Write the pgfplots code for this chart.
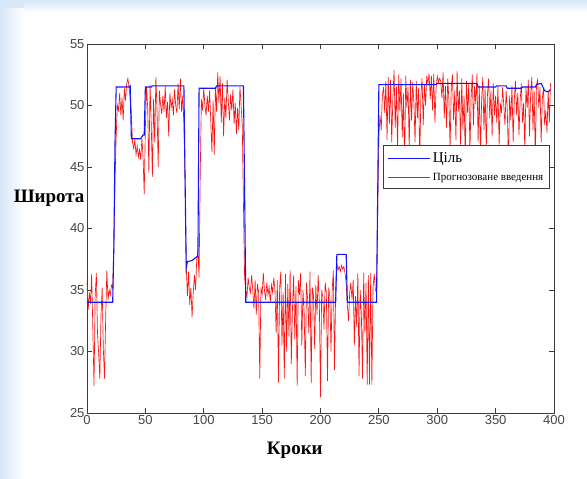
\documentclass[border=0pt]{standalone}
\usepackage{pgfplots}
\pgfplotsset{compat=1.18}
\usepackage{fontspec}
\setmainfont{Liberation Serif}
\newfontfamily\ticksans{Liberation Sans}

\definecolor{slideblue}{RGB}{214,231,248}
\definecolor{axgray}{RGB}{60,60,60}
\definecolor{tickgray}{RGB}{70,70,70}
\definecolor{tgtblue}{RGB}{20,20,255}
\definecolor{predred}{RGB}{250,20,20}

\begin{document}
\begin{tikzpicture}
% slide background
\fill[slideblue] (0pt,0pt) rectangle (587pt,479pt);
\shade[left color=slideblue, right color=white] (0pt,0pt) rectangle (24pt,470pt);
\fill[white] (24pt,0pt) rectangle (587pt,470pt);
\shade[bottom color=white, top color=slideblue] (24pt,466pt) rectangle (587pt,479pt);

\begin{axis}[
    at={(87pt,66pt)}, anchor=south west,
    scale only axis,
    width=467pt, height=369pt,
    xmin=0, xmax=400,
    ymin=25, ymax=55,
    xtick={0,50,...,400},
    ytick={25,30,...,55},
    tick align=inside,
    major tick length=5pt,
    axis line style={axgray, line width=0.9pt},
    every tick/.style={axgray, line width=0.9pt},
    ticklabel style={font=\ticksans\fontsize{13}{14}\selectfont, text=tickgray},
    /pgf/number format/assume math mode=true,
    xticklabel style={yshift=1pt},
    yticklabel style={xshift=1pt},
    clip=false,
    legend cell align=left,
    legend style={at={(0.634,0.726)}, anchor=north west,
        draw=axgray, line width=0.9pt, fill=white,
        inner xsep=4pt, inner ysep=5pt, row sep=5pt},
    legend image code/.code={\draw[#1] (0pt,0pt) -- (42pt,0pt);},
]

\addlegendimage{tgtblue, line width=1.3pt}
\addlegendentry{\fontsize{15}{16}\selectfont Ціль}
\addlegendimage{predred, line width=0.7pt}
\addlegendentry{\fontsize{11}{12}\selectfont Прогнозоване введення}

% predicted output (red)
\addplot[predred, line width=0.65pt, forget plot] coordinates {
(0,35.6)(1,33.4)(2,34.8)(3,33.9)(4,36.3)(5,31.8)(6,27.2)(7,34.5)(8,36.4)(9,31.5)
(10,29.8)(11,27.8)(12,33.0)(13,35.2)(14,30.2)(15,27.8)(16,32.8)(17,36.6)(18,34.2)(19,35.0)
(20,34.6)(21,35.4)(22,35.2)(23,38.5)(24,44.0)(25,47.5)(26,50.0)(27,49.6)(28,51.0)(29,49.2)
(30,50.6)(31,48.8)(32,51.4)(33,50.4)(34,51.8)(35,52.2)(36,51.5)(37,50.6)(38,49.3)(39,47.0)
(40,46.5)(41,47.2)(42,46.0)(43,46.7)(44,45.8)(45,46.4)(46,45.6)(47,47.3)(48,45.9)(49,42.8)
(50,48.2)(51,51.5)(52,49.8)(53,44.5)(54,51.7)(55,48.6)(56,44.2)(57,50.5)(58,47.0)(59,52.3)
(60,49.6)(61,45.0)(62,51.2)(63,50.1)(64,49.3)(65,50.8)(66,49.5)(67,51.6)(68,49.0)(69,50.3)
(70,47.5)(71,51.0)(72,49.8)(73,50.5)(74,49.2)(75,51.3)(76,50.0)(77,49.4)(78,51.8)(79,49.7)
(80,52.2)(81,49.5)(82,50.8)(83,48.5)(84,44.0)(85,37.0)(86,34.5)(87,36.5)(88,33.8)(89,35.2)
(90,32.8)(91,34.8)(92,36.2)(93,35.0)(94,37.5)(95,38.2)(96,36.0)(97,44.5)(98,50.5)(99,49.6)
(100,51.4)(101,50.0)(102,49.2)(103,50.8)(104,49.5)(105,51.2)(106,48.8)(107,46.2)(108,50.4)(109,46.0)
(110,51.5)(111,49.5)(112,52.7)(113,50.2)(114,52.4)(115,48.6)(116,51.8)(117,47.5)(118,50.6)(119,49.0)
(120,52.1)(121,50.4)(122,48.8)(123,50.9)(124,49.6)(125,51.3)(126,48.5)(127,50.2)(128,47.7)(129,49.8)
(130,48.0)(131,51.5)(132,50.0)(133,48.4)(134,42.0)(135,36.0)(136,35.0)(137,34.4)(138,36.0)(139,35.2)
(140,34.8)(141,36.2)(142,35.0)(143,33.5)(144,35.8)(145,33.0)(146,35.5)(147,34.8)(148,27.8)(149,35.2)
(150,34.6)(151,36.4)(152,35.0)(153,34.2)(154,35.6)(155,34.6)(156,35.2)(157,34.0)(158,35.4)(159,34.8)
(160,36.0)(161,35.0)(162,31.5)(163,35.8)(164,27.5)(165,35.2)(166,36.5)(167,30.5)(168,34.8)(169,27.8)
(170,36.3)(171,30.0)(172,35.5)(173,31.2)(174,36.6)(175,29.0)(176,33.5)(177,36.2)(178,31.0)(179,35.3)
(180,27.2)(181,35.8)(182,34.6)(183,36.4)(184,30.5)(185,35.0)(186,33.2)(187,28.0)(188,35.6)(189,34.2)
(190,31.5)(191,36.5)(192,27.4)(193,35.2)(194,34.6)(195,30.2)(196,35.4)(197,33.0)(198,36.2)(199,34.0)
(200,26.3)(201,35.0)(202,34.4)(203,31.8)(204,35.6)(205,34.8)(206,27.6)(207,35.2)(208,34.5)(209,30.0)
(210,35.0)(211,36.6)(212,28.5)(213,35.0)(214,37.2)(215,36.6)(216,36.9)(217,36.5)(218,37.0)(219,36.7)
(220,36.9)(221,36.4)(222,35.5)(223,33.8)(224,32.5)(225,34.8)(226,35.6)(227,34.2)(228,35.8)(229,30.5)
(230,34.5)(231,32.0)(232,36.4)(233,28.0)(234,35.0)(235,33.0)(236,27.8)(237,36.4)(238,31.5)(239,35.6)
(240,27.3)(241,36.2)(242,27.3)(243,36.4)(244,27.3)(245,35.2)(246,36.3)(247,35.0)(248,34.8)(249,41.5)
(250,47.5)(251,49.2)(252,48.0)(253,50.8)(254,51.5)(255,49.4)(256,52.0)(257,47.2)(258,52.3)(259,48.5)
(260,52.1)(261,47.0)(262,50.6)(263,52.9)(264,48.2)(265,51.6)(266,46.4)(267,52.5)(268,49.5)(269,52.2)
(270,47.4)(271,51.0)(272,45.0)(273,52.4)(274,49.8)(275,51.5)(276,46.5)(277,52.1)(278,48.8)(279,51.9)
(280,50.2)(281,47.0)(282,52.0)(283,49.0)(284,51.4)(285,45.5)(286,50.8)(287,52.2)(288,48.4)(289,51.7)
(290,50.0)(291,52.4)(292,51.8)(293,52.6)(294,50.5)(295,52.4)(296,49.6)(297,52.6)(298,48.6)(299,51.4)
(300,52.4)(301,51.9)(302,52.2)(303,52.0)(304,50.6)(305,52.7)(306,49.0)(307,51.6)(308,48.2)(309,52.2)
(310,50.4)(311,46.5)(312,51.5)(313,52.5)(314,48.8)(315,51.2)(316,47.2)(317,52.8)(318,49.5)(319,51.2)
(320,46.8)(321,52.2)(322,48.0)(323,50.8)(324,45.5)(325,52.0)(326,49.4)(327,51.8)(328,46.2)(329,50.6)
(330,52.5)(331,48.4)(332,51.6)(333,50.1)(334,52.6)(335,47.0)(336,51.6)(337,45.8)(338,50.4)(339,52.3)
(340,48.0)(341,51.4)(342,46.4)(343,50.9)(344,52.2)(345,49.0)(346,51.2)(347,47.5)(348,51.8)(349,49.2)
(350,50.8)(351,48.6)(352,51.6)(353,46.8)(354,50.2)(355,49.4)(356,51.5)(357,50.0)(358,48.4)(359,51.2)
(360,49.6)(361,45.2)(362,50.8)(363,48.8)(364,51.6)(365,47.0)(366,50.5)(367,52.0)(368,49.2)(369,51.0)
(370,47.6)(371,50.4)(372,51.8)(373,48.6)(374,50.2)(375,46.4)(376,51.5)(377,49.8)(378,52.1)(379,47.5)
(380,50.9)(381,52.3)(382,48.0)(383,51.2)(384,45.5)(385,51.7)(386,52.1)(387,49.8)(388,51.5)(389,47.0)
(390,50.6)(391,51.4)(392,48.4)(393,49.6)(394,47.8)(395,51.2)(396,48.6)(397,51.8)
};

% target (blue)
\addplot[tgtblue, line width=1.1pt, forget plot] coordinates {
(0,34.0)(22,34.0)(23,38.5)(24,47.0)(25,51.5)(36,51.5)(37,51.6)(38,47.3)(46,47.3)(48,47.6)(49,47.6)
(50,51.5)(55,51.5)(56,51.6)(83,51.6)(84,44.0)(85,36.8)(86,37.3)(90,37.4)(94,37.7)(95,37.7)
(96,51.4)(110,51.4)(111,51.6)(134,51.6)(135,43.0)(136,34.0)(213,34.0)(214,37.9)(222,37.9)
(223,34.0)(248,34.0)(249,43.0)(250,51.7)(299,51.7)(300,51.8)(334,51.8)(335,51.5)(350,51.5)
(351,51.6)(359,51.6)(360,51.4)(372,51.4)(373,51.5)(384,51.5)(385,51.7)(389,51.8)(392,51.2)(395,51.1)(397,51.3)
};

\node[anchor=east, font=\bfseries\fontsize{19}{20}\selectfont, inner sep=0pt]
    at (rel axis cs:-0.005,0.583) {Широта};
\node[font=\bfseries\fontsize{19}{20}\selectfont, inner sep=0pt]
    at ([yshift=-37pt]rel axis cs:0.445,0) {Кроки};
\end{axis}
\end{tikzpicture}
\end{document}
